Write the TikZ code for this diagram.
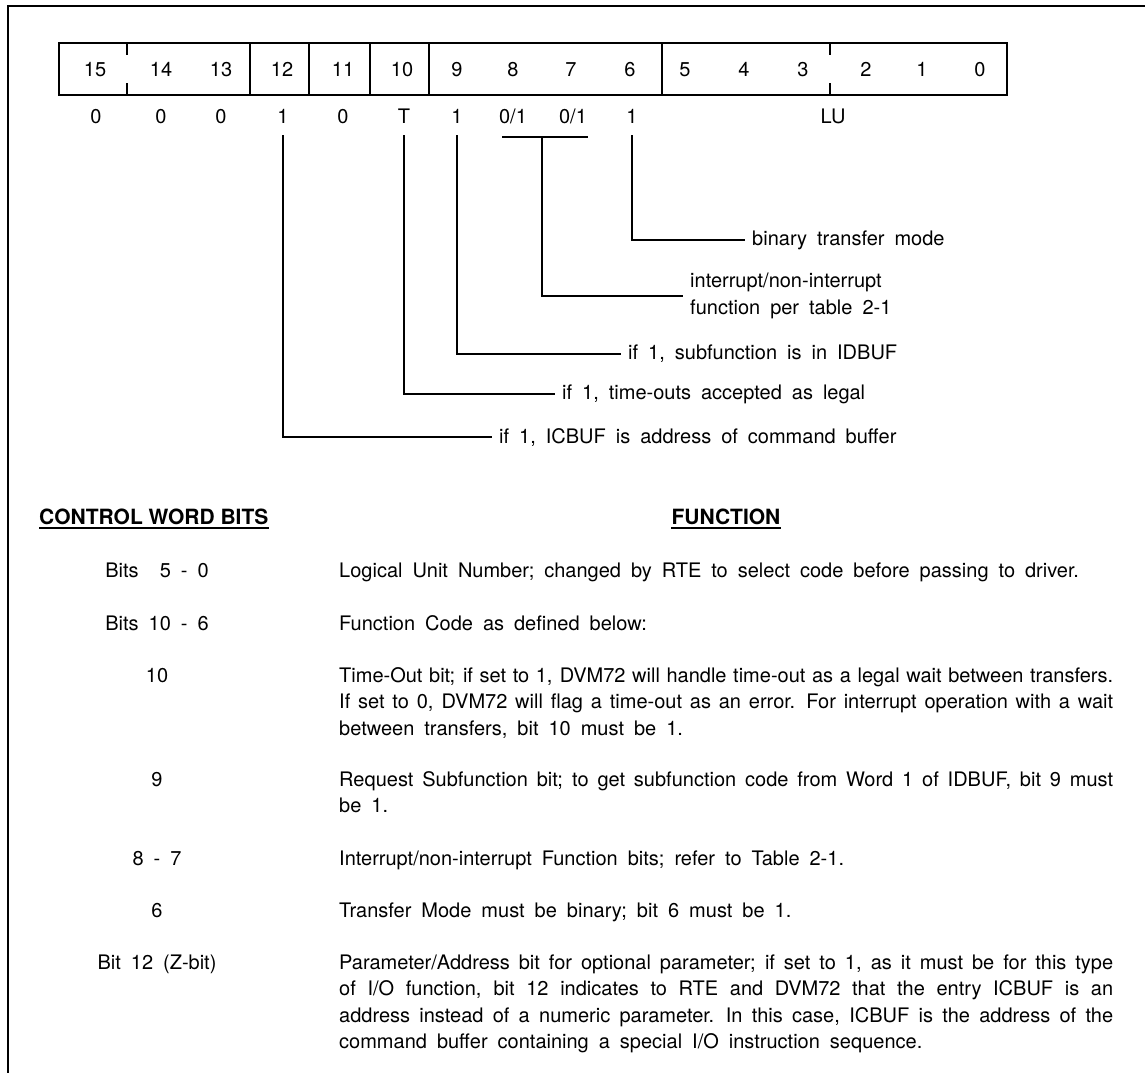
\documentclass[tikz,border=0pt]{standalone}
\usepackage{fontspec}
\setmainfont{TeX Gyre Heros}
\usetikzlibrary{calc}
\tikzset{>=latex}
\newcommand{\bodyfont}{\fontsize{20}{26.5}\selectfont\spaceskip=10pt plus 10pt minus 6pt\relax}
\newcommand{\headfont}{\fontsize{21}{26}\selectfont\bfseries}
\tikzset{
	txt/.style={font=\bodyfont, inner sep=0pt},
	bitno/.style={txt, anchor=base},
	lbl/.style={txt, anchor=west, inner xsep=7pt},
	desc/.style={txt, anchor=base west, text width=774pt, align=justify},
	head/.style={font=\headfont, inner sep=0pt},
	reg/.style={line width=2pt},
	lead/.style={line width=2pt},
	frame/.style={line width=2.5pt}
}
\hyphenpenalty=10000
\exhyphenpenalty=10000
\tolerance=10000
\begin{document}
\begin{tikzpicture}[x=1pt,y=-1pt]
            \useasboundingbox (0,0) rectangle (1145,1073);
            \draw[frame] (1145,6) -- (8,6) -- (8,1073);
            \draw[reg] (59,43) rectangle (1007,95);
            \draw[reg] (250,43) -- (250,95);
            \draw[reg] (309,43) -- (309,95);
            \draw[reg] (370,43) -- (370,95);
            \draw[reg] (429,43) -- (429,95);
            \draw[reg] (662,43) -- (662,95);
            \draw[reg] (127,43) -- (127,55);
            \draw[reg] (127,83) -- (127,95);
            \draw[reg] (830,43) -- (830,55);
            \draw[reg] (830,83) -- (830,95);
            \node[bitno] (b15) at (95,76) {15};
            \node[bitno] (b14) at (161,76) {14};
            \node[bitno] (b13) at (221,76) {13};
            \node[bitno] (b12) at (282,76) {12};
            \node[bitno] (b11) at (343,76) {11};
            \node[bitno] (b10) at (402,76) {10};
            \node[bitno] (b9) at (457,76) {9};
            \node[bitno] (b8) at (513,76) {8};
            \node[bitno] (b7) at (571,76) {7};
            \node[bitno] (b6) at (630,76) {6};
            \node[bitno] (b5) at (685,76) {5};
            \node[bitno] (b4) at (744,76) {4};
            \node[bitno] (b3) at (803,76) {3};
            \node[bitno] (b2) at (866,76) {2};
            \node[bitno] (b1) at (922,76) {1};
            \node[bitno] (b0) at (980,76) {0};
            \node[bitno] (v15) at (96,123) {0};
            \node[bitno] (v14) at (161,123) {0};
            \node[bitno] (v13) at (221,123) {0};
            \node[bitno] (v12) at (283,123) {1};
            \node[bitno] (v11) at (343,123) {0};
            \node[bitno] (vT) at (404,123) {T};
            \node[bitno] (v9) at (457,123) {1};
            \node[bitno] (v8) at (513,123) {0/1};
            \node[bitno] (v7) at (573,123) {0/1};
            \node[bitno] (v6) at (632,123) {1};
            \node[bitno] (vLU) at (833,123) {LU};
            \node[lbl] (lb) at (745,240) {binary transfer mode};
            \node[lbl, align=left] (li) at (683,296) {interrupt/non-interrupt\\function per table 2-1};
            \node[lbl] (ls) at (621,354) {if 1, subfunction is in IDBUF};
            \node[lbl] (lt) at (555,394) {if 1, time-outs accepted as legal};
            \node[lbl] (lz) at (492,437) {if 1, ICBUF is address of command buffer};
            \coordinate (brl) at (502,137);
            \coordinate (brr) at (588,137);
            \coordinate (brm) at (542,137);
            \draw[lead] (brl) -- (brr);
            \draw[lead] (brm) |- (li.west);
            \draw[lead, shorten <=12pt] (v6.south) |- (lb.west);
            \draw[lead, shorten <=12pt] (v9.south) |- (ls.west);
            \draw[lead, shorten <=12pt] (vT.south) |- (lt.west);
            \draw[lead, shorten <=12pt] (v12.south) |- (lz.west);
            \node[head, anchor=base west] (cwb) at (39,524) {CONTROL WORD BITS};
            \node[head, anchor=base] (fun) at (726,524) {FUNCTION};
            \draw[lead] ([yshift=-4pt]cwb.south west) -- ([yshift=-4pt]cwb.south east);
            \draw[lead] ([yshift=-4pt]fun.south west) -- ([yshift=-4pt]fun.south east);
            \node[bitno] (c50) at (157,577) {Bits \phantom{1}5 - 0};
            \node[bitno] (c106) at (157,630) {Bits 10 - 6};
            \node[bitno] (c10) at (157,682) {10};
            \node[bitno] (c9) at (157,786) {9};
            \node[bitno] (c87) at (157,865) {8 - 7};
            \node[bitno] (c6) at (157,917) {6};
            \node[bitno] (c12) at (157,969) {Bit 12 (Z-bit)};
            \node[desc] (f50) at (339,577) {Logical Unit Number; changed by RTE to select code before passing to driver.};
            \node[desc] (f106) at (339,630) {Function Code as defined below:};
            \node[desc] (f10) at (339,682) {Time-Out bit; if set to 1, DVM72 will handle time-out as a legal wait between transfers.\linebreak If set to 0, DVM72 will flag a time-out as an error. For interrupt operation with a wait\linebreak between transfers, bit 10 must be 1.};
            \node[desc] (f9) at (339,786) {Request Subfunction bit; to get subfunction code from Word 1 of IDBUF, bit 9 must\linebreak be 1.};
            \node[desc] (f87) at (339,865) {Interrupt/non-interrupt Function bits; refer to Table 2-1.};
            \node[desc] (f6) at (339,917) {Transfer Mode must be binary; bit 6 must be 1.};
            \node[desc] (f12) at (339,969) {Parameter/Address bit for optional parameter; if set to 1, as it must be for this type\linebreak of I/O function, bit 12 indicates to RTE and DVM72 that the entry ICBUF is an\linebreak address instead of a numeric parameter. In this case, ICBUF is the address of the\linebreak command buffer containing a special I/O instruction sequence.};
        \end{tikzpicture}
\end{document}
